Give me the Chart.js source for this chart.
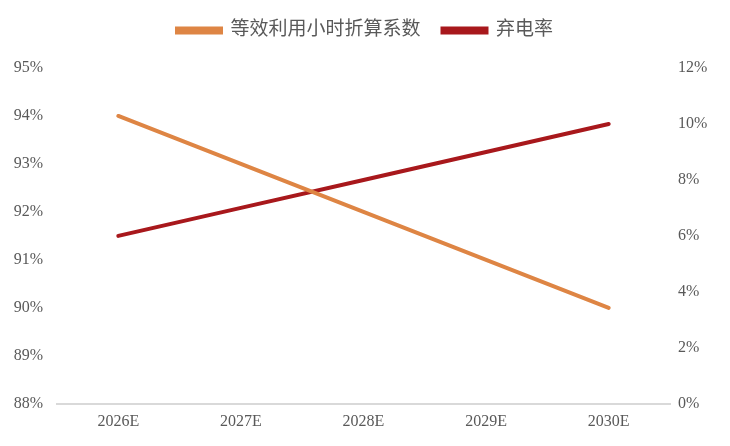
<!DOCTYPE html>
<html>
<head>
<meta charset="utf-8">
<script src="https://cdn.jsdelivr.net/npm/chart.js@4"></script>
<style>
  html, body { margin: 0; padding: 0; background: #fff; }
  #wrap { width: 730px; height: 446px; }
</style>
</head>
<body>
<div id="wrap"><canvas id="chart"></canvas></div>
<script>
// data
const years = ['2026E', '2027E', '2028E', '2029E', '2030E'];
const hoursFactor = [94, 93, 92, 91, 90];   // 等效利用小时折算系数, left axis (%)
const curtailment = [6, 7, 8, 9, 10];       // 弃电率, right axis (%)

const tickFont = { family: "'Liberation Serif', 'DejaVu Serif', serif", size: 16 };
const tickColor = '#595959';

// give the legend some extra room below it
const legendSpace = {
  id: 'legendSpace',
  beforeInit(chart) {
    const fit = chart.legend.fit;
    chart.legend.fit = function () {
      fit.bind(chart.legend)();
      this.height += 18;
    };
  }
};

const ctx = document.getElementById('chart').getContext('2d');
const chart = new Chart(ctx, {
  type: 'line',
  data: {
    labels: years,
    datasets: [{
      label: '等效利用小时折算系数',
      data: hoursFactor,
      yAxisID: 'y',
      borderColor: '#DE8544',
      backgroundColor: '#DE8544',
      borderWidth: 4,
      borderCapStyle: 'round',
      pointRadius: 0,
      tension: 0
    }, {
      label: '弃电率',
      data: curtailment,
      yAxisID: 'y1',
      borderColor: '#A8181C',
      backgroundColor: '#A8181C',
      borderWidth: 4,
      borderCapStyle: 'round',
      pointRadius: 0,
      tension: 0
    }]
  },
  options: {
    responsive: true,
    maintainAspectRatio: false,
    animation: false,
    layout: { padding: { top: -1, bottom: 15 } },
    plugins: {
      legend: {
        position: 'top',
        labels: {
          boxWidth: 44,
          boxHeight: 4,
          padding: 22,
          color: '#595959',
          font: { family: "'Liberation Serif', 'Noto Sans CJK SC', serif", size: 19 }
        }
      },
      tooltip: { enabled: false }
    },
    scales: {
      x: {
        offset: true,
        grid: { display: false },
        border: { display: true, color: '#D9D9D9', width: 2 },
        ticks: { color: tickColor, font: tickFont, padding: 0 }
      },
      y: {
        position: 'left',
        min: 88,
        max: 95,
        grid: { display: false },
        border: { display: false },
        ticks: { stepSize: 1, color: tickColor, font: tickFont, padding: 6, callback: v => v + '%' },
        afterFit: s => { s.width = 57; }
      },
      y1: {
        position: 'right',
        min: 0,
        max: 12,
        grid: { display: false },
        border: { display: false },
        ticks: { stepSize: 2, color: tickColor, font: tickFont, padding: 0, callback: v => v + '%' },
        afterFit: s => { s.width = 60; }
      }
    }
  },
  plugins: [legendSpace]
});
</script>
</body>
</html>
